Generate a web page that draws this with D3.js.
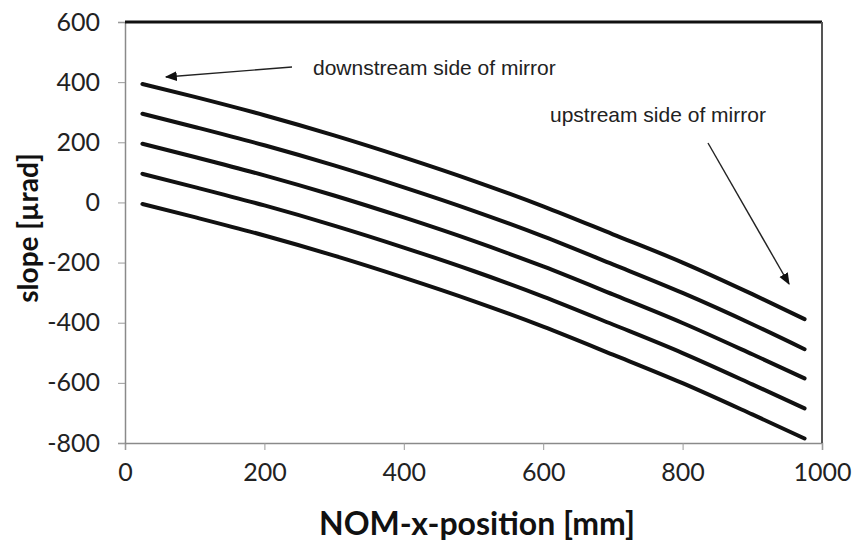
<!DOCTYPE html>
<html>
<head>
<meta charset="utf-8">
<script src="https://cdn.jsdelivr.net/npm/d3@7"></script>
<style>
  html, body { margin: 0; padding: 0; background: #fff; }
  svg { display: block; }
</style>
</head>
<body>
<svg id="chart" width="854" height="543"></svg>
<script>
// ---- data ----
const xPositions = [25, 100, 200, 300, 400, 500, 600, 700, 800, 900, 975];
const slope1 = [394, 351, 290, 223, 150, 72, -13, -106, -200, -305, -388];
const slope2 = [295, 251, 190, 123, 50, -28, -113, -206, -301, -405, -488];
const slope3 = [195, 151, 90, 23, -50, -128, -213, -306, -401, -505, -585];
const slope4 = [95, 51, -10, -77, -150, -228, -313, -406, -501, -605, -685];
const slope5 = [-5, -49, -110, -177, -250, -328, -413, -506, -601, -705, -785];
const xTicks = [0, 200, 400, 600, 800, 1000];
const yTicks = [600, 400, 200, 0, -200, -400, -600, -800];
const xTitle = "NOM-x-position [mm]";
const yTitle = "slope [µrad]";
const noteDown = "downstream side of mirror";
const noteUp = "upstream side of mirror";

const series = [slope1, slope2, slope3, slope4, slope5];

const svg = d3.select("#chart");
const mL = 125, mR = 822, mT = 22, mB = 443;

const x = d3.scaleLinear().domain([0, 1000]).range([mL, mR]);
const y = d3.scaleLinear().domain([-800, 600]).range([mB, mT]);

const tickFont = "Lato, 'Open Sans', sans-serif";

// axes
const xAxis = svg.append("g").attr("transform", `translate(0,${mB})`)
  .call(d3.axisBottom(x).tickValues(xTicks).tickSize(7).tickPadding(13).tickFormat(d => String(d)));
const yAxis = svg.append("g").attr("transform", `translate(${mL},0)`)
  .call(d3.axisLeft(y).tickValues(yTicks).tickSize(7).tickPadding(18).tickFormat(d => String(d)));

[xAxis, yAxis].forEach(g => {
  g.select(".domain").attr("stroke", "#8a8a8a").attr("stroke-width", 1.5);
  g.selectAll(".tick line").attr("stroke", "#9a9a9a").attr("stroke-width", 1);
  g.selectAll(".tick text").attr("fill", "#222").attr("font-family", tickFont).attr("font-size", 25);
});

// frame: top and right
svg.append("line").attr("x1", mL).attr("x2", mR).attr("y1", mT).attr("y2", mT)
  .attr("stroke", "#111").attr("stroke-width", 3);
svg.append("line").attr("x1", mR).attr("x2", mR).attr("y1", mT).attr("y2", mB)
  .attr("stroke", "#555").attr("stroke-width", 2);

// curves
const line = d3.line().x((d, i) => x(xPositions[i])).y(d => y(d)).curve(d3.curveMonotoneX);
svg.append("g").selectAll("path").data(series).join("path")
  .attr("d", line)
  .attr("fill", "none")
  .attr("stroke", "#111")
  .attr("stroke-width", 4)
  .attr("stroke-linecap", "round");

// axis titles
svg.append("text").attr("x", 477).attr("y", 535)
  .attr("text-anchor", "middle").attr("font-family", tickFont).attr("font-weight", "bold")
  .attr("font-size", 32).attr("fill", "#111").text(xTitle);
svg.append("text").attr("transform", `translate(38,228) rotate(-90)`)
  .attr("text-anchor", "middle").attr("font-family", tickFont).attr("font-weight", "bold")
  .attr("font-size", 28).attr("fill", "#111").text(yTitle);

// annotations
const defs = svg.append("defs");
defs.append("marker").attr("id", "ah").attr("viewBox", "0 0 10 10")
  .attr("refX", 9).attr("refY", 5).attr("markerWidth", 12).attr("markerHeight", 12)
  .attr("markerUnits", "userSpaceOnUse").attr("orient", "auto-start-reverse")
  .append("path").attr("d", "M0,1 L10,5 L0,9 Z").attr("fill", "#111");

const noteFont = "'Liberation Sans', Arial, sans-serif";
svg.append("text").attr("x", 313).attr("y", 75).attr("font-family", noteFont)
  .attr("font-size", 21).attr("fill", "#222").text(noteDown);
svg.append("line").attr("x1", 292).attr("y1", 67).attr("x2", 166).attr("y2", 77)
  .attr("stroke", "#222").attr("stroke-width", 1.4).attr("marker-end", "url(#ah)");

svg.append("text").attr("x", 550).attr("y", 122).attr("font-family", noteFont)
  .attr("font-size", 21).attr("fill", "#222").text(noteUp);
svg.append("line").attr("x1", 708).attr("y1", 143).attr("x2", 789).attr("y2", 284)
  .attr("stroke", "#222").attr("stroke-width", 1.4).attr("marker-end", "url(#ah)");
</script>
</body>
</html>
